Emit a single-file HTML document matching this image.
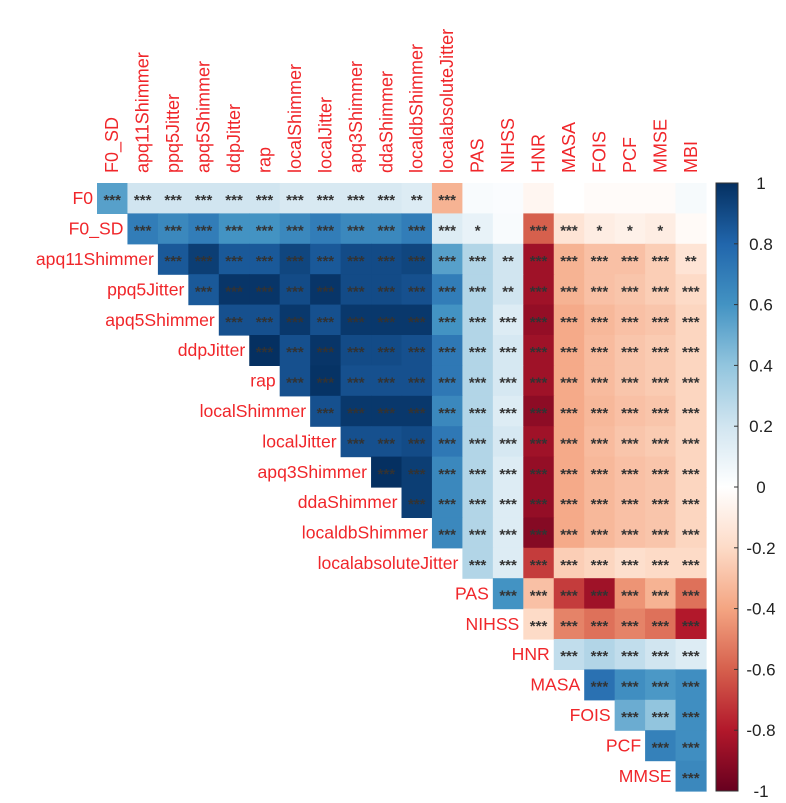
<!DOCTYPE html>
<html><head><meta charset="utf-8"><style>
body{margin:0;background:#fff;}
svg{display:block;font-family:"Liberation Sans",Arial,sans-serif;}
</style></head><body>
<svg id="chart" width="786" height="803" viewBox="0 0 786 803"></svg>
<script>
const variables=["F0","F0_SD","apq11Shimmer","ppq5Jitter","apq5Shimmer","ddpJitter","rap","localShimmer","localJitter","apq3Shimmer","ddaShimmer","localdbShimmer","localabsoluteJitter","PAS","NIHSS","HNR","MASA","FOIS","PCF","MMSE","MBI"];
// row i lists correlations with variables i+1 .. 20
const corrRows=[
[0.55,0.2,0.2,0.2,0.2,0.2,0.17,0.17,0.17,0.17,0.15,-0.35,0.03,0.02,-0.05,0.0,-0.02,-0.02,-0.02,0.04],
[0.7,0.65,0.7,0.6,0.6,0.65,0.7,0.65,0.65,0.7,0.15,0.1,0.03,-0.6,-0.15,-0.1,-0.08,-0.1,-0.03],
[0.85,0.95,0.85,0.85,0.92,0.85,0.9,0.9,0.92,0.55,0.3,0.2,-0.85,-0.35,-0.3,-0.3,-0.25,-0.15],
[0.85,0.98,0.98,0.9,0.98,0.9,0.9,0.88,0.7,0.3,0.2,-0.85,-0.35,-0.3,-0.28,-0.25,-0.2],
[0.88,0.88,0.97,0.88,0.97,0.97,0.97,0.6,0.3,0.15,-0.88,-0.38,-0.33,-0.3,-0.28,-0.22],
[1.0,0.88,0.98,0.9,0.9,0.88,0.72,0.3,0.18,-0.85,-0.38,-0.32,-0.28,-0.26,-0.22],
[0.88,0.99,0.88,0.88,0.88,0.72,0.3,0.18,-0.85,-0.38,-0.32,-0.28,-0.26,-0.22],
[0.88,0.97,0.97,0.97,0.65,0.3,0.15,-0.9,-0.38,-0.33,-0.3,-0.28,-0.22],
[0.88,0.88,0.9,0.72,0.3,0.18,-0.85,-0.38,-0.32,-0.28,-0.26,-0.22],
[1.0,0.95,0.65,0.3,0.15,-0.88,-0.38,-0.33,-0.3,-0.28,-0.22],
[0.95,0.65,0.3,0.15,-0.88,-0.38,-0.33,-0.3,-0.28,-0.22],
[0.65,0.3,0.15,-0.92,-0.38,-0.33,-0.3,-0.28,-0.22],
[0.3,0.15,-0.7,-0.25,-0.22,-0.18,-0.2,-0.2],
[0.6,-0.3,-0.7,-0.85,-0.45,-0.35,-0.55],
[-0.2,-0.5,-0.55,-0.5,-0.55,-0.8],
[0.25,0.3,0.25,0.2,0.15],
[0.75,0.62,0.58,0.62],
[0.5,0.4,0.62],
[0.68,0.62],
[0.65]
];
const starRows=[
["***","***","***","***","***","***","***","***","***","***","**","***","","","","","","","",""],
["***","***","***","***","***","***","***","***","***","***","***","*","","***","***","*","*","*",""],
["***","***","***","***","***","***","***","***","***","***","***","**","***","***","***","***","***","**"],
["***","***","***","***","***","***","***","***","***","***","**","***","***","***","***","***","***"],
null,null,null,null,null,null,null,null,null,null,null,null,null,null,null,null
];
const colorbarTicks=["1","0.8","0.6","0.4","0.2","0","-0.2","-0.4","-0.6","-0.8","-1"];
const palette=["#67001F","#B2182B","#D6604D","#F4A582","#FDDBC7","#FFFFFF","#D1E5F0","#92C5DE","#4393C3","#2166AC","#053061"];

const NS="http://www.w3.org/2000/svg";
const svg=document.getElementById('chart');
const gx0=97,gy0=183,cw=30.45,ch=30.4;
const xPos=j=>gx0+j*cw, yPos=i=>gy0+i*ch;
function hex(c){return [1,3,5].map(k=>parseInt(c.substr(k,2),16));}
function colorFor(v){
  const t=(Math.max(-1,Math.min(1,v))+1)/2*10;
  const k=Math.min(9,Math.floor(t)),f=t-k;
  const a=hex(palette[k]),b=hex(palette[k+1]);
  return `rgb(${a.map((x,i)=>Math.round(x+(b[i]-x)*f)).join(',')})`;
}
function mk(tag,attrs){const e=document.createElementNS(NS,tag);for(const k in attrs)e.setAttribute(k,attrs[k]);return e;}

for(let i=0;i<corrRows.length;i++){
  const row=corrRows[i];
  for(let k=0;k<row.length;k++){
    const j=i+k;
    const r=mk('rect',{x:xPos(j),y:yPos(i),width:cw+0.6,height:ch+0.6,fill:colorFor(row[k])});
    
    
    svg.appendChild(r);
    const s=starRows[i]?starRows[i][k]:"***";
    if(s){
      const t=mk('text',{x:xPos(j)+cw/2,y:yPos(i)+ch/2+7,'text-anchor':'middle','font-size':15,'font-weight':'bold',fill:'#333'});
      t.textContent=s;
      
      
      svg.appendChild(t);
    }
  }
  const lb=mk('text',{x:xPos(i)-4,y:yPos(i)+ch/2+6,'text-anchor':'end','font-size':17.6,fill:'#F0262A'});
  lb.textContent=variables[i];
  
  
  svg.appendChild(lb);
}
for(let j=0;j<20;j++){
  const cx=xPos(j)+cw/2+6, cy=173;
  const t=mk('text',{x:cx,y:cy,'font-size':18,fill:'#F0262A',transform:`rotate(-90 ${cx} ${cy})`});
  t.textContent=variables[j+1];
  
  
  svg.appendChild(t);
}
// colorbar
const defs=mk('defs',{});const lg=mk('linearGradient',{id:'cb',x1:0,y1:0,x2:0,y2:1});
for(let k=0;k<palette.length;k++){lg.appendChild(mk('stop',{offset:k/10,'stop-color':palette[10-k]}));}
defs.appendChild(lg);svg.appendChild(defs);
const cbx=716,cby=183,cbw=22,cbh=608;
const cb=mk('rect',{x:cbx,y:cby,width:cbw,height:cbh,fill:'url(#cb)',stroke:'#333','stroke-width':1});


svg.appendChild(cb);
for(let k=0;k<colorbarTicks.length;k++){
  const y=cby+k*cbh/10;
  svg.appendChild(mk('line',{x1:cbx+cbw-4,x2:cbx+cbw,y1:y,y2:y,stroke:'#333'}));
  const t=mk('text',{x:761,y:y+6,'text-anchor':'middle','font-size':17,fill:'#222'});
  t.textContent=colorbarTicks[k];
  
  
  svg.appendChild(t);
}
</script>
</body></html>
